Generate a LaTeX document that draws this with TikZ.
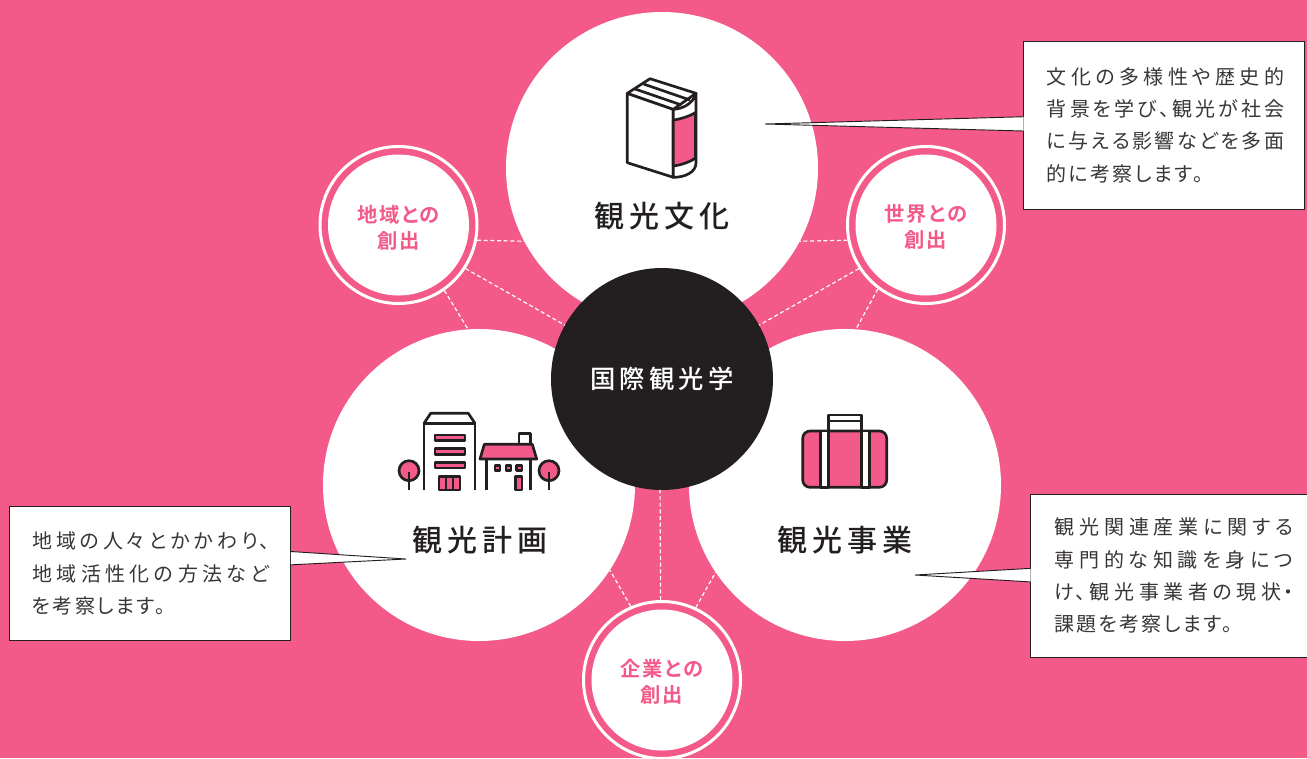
\documentclass[tikz,border=0pt]{standalone}
\usepackage{fontspec}
\XeTeXlinebreaklocale "ja"
\newfontfamily\jpbody[LetterSpace=11,RawFeature=+palt]{Noto Sans CJK JP}
\newfontfamily\jptitle[LetterSpace=17]{Noto Sans CJK JP Medium}
\newfontfamily\jpcenter[LetterSpace=16]{Noto Sans CJK JP Medium}
\newfontfamily\jpsmall[LetterSpace=9,RawFeature=+palt]{Noto Sans CJK JP Bold}
\newcommand\jl[2]{\makebox[0pt][l]{\parbox[b]{#1}{\XeTeXlinebreakskip=0pt plus 1fil\parfillskip=0pt\relax\noindent #2}}}
\definecolor{pinkbg}{HTML}{F35A89}
\definecolor{inkdark}{HTML}{231F20}
\definecolor{bodyink}{HTML}{3A3637}
\tikzset{
  x=0.75pt,y=-0.75pt,
  bigc/.style={circle,fill=white,inner sep=0pt,outer sep=0pt,minimum size=234pt},
  hubc/.style={circle,fill=inkdark,inner sep=0pt,outer sep=0pt,minimum size=166.5pt,text=white,
     font=\jpcenter\fontsize{19pt}{22pt}\selectfont},
  ringc/.style={circle,draw=white,line width=2.25pt,inner sep=0pt,minimum size=117.75pt},
  smallc/.style={circle,fill=white,inner sep=0pt,outer sep=0pt,minimum size=105.75pt},
  smalllab/.style={inner sep=0pt,text=pinkbg,align=center,
     font=\jpsmall\fontsize{15.2pt}{19.5pt}\selectfont},
  titlelab/.style={inner sep=0pt,text=inkdark,font=\jptitle\fontsize{22.5pt}{26pt}\selectfont},
  notebox/.style={anchor=north west,draw=inkdark,line width=0.7pt,fill=white,inner sep=0pt,outer sep=0pt,
     align=left,text=bodyink,font=\jpbody\fontsize{15pt}{24.3pt}\selectfont},
  notetail/.style={draw=inkdark,line width=0.7pt,fill=white},
  dotline/.style={white,line width=0.9pt,dash pattern=on 3pt off 2pt},
  icon/.style={draw=inkdark,line width=2pt,line join=round},
  iconp/.style={icon,fill=pinkbg},
  iconw/.style={icon,fill=white},
}
\begin{document}
\begin{tikzpicture}
\useasboundingbox (0,0) rectangle (1307,758);
\clip (0,0) rectangle (1307,758);
\fill[pinkbg] (0,0) rectangle (1307,758);

% main circles
\node[bigc] (top) at (662,168) {};
\node[bigc] (lft) at (479,485) {};
\node[bigc] (rgt) at (845,485) {};
\node[hubc] (hub) at (662,379) {国際観光学};

% satellite circles
\node[ringc] (rl) at (398.5,225) {};
\node[smallc] (sl) at (398.5,225) {};
\node[smalllab] (ll) at (398.5,228) {地域との\\創出};
\node[ringc] (rr) at (926,225) {};
\node[smallc] (sr) at (926,225) {};
\node[smalllab] (lr) at (926,227) {世界との\\創出};
\node[ringc] (rb) at (662,680) {};
\node[smallc] (sb) at (662,680) {};
\node[smalllab] (lb) at (662,682) {企業との\\創出};

% dotted connectors
\draw[dotline] (rl.-11.6) -- (top.208);
\draw[dotline] (rl.-33) -- (hub.151);
\draw[dotline] (rl.-55.5) -- (lft.94);
\draw[dotline] (rr.191.5) -- (top.-28);
\draw[dotline] (rr.213) -- (hub.29.4);
\draw[dotline] (rr.233.8) -- (rgt.86);
\draw[dotline] (rb.91.4) -- (hub.-91);
\draw[dotline] (rb.113.4) -- (lft.-33.6);
\draw[dotline] (rb.65.3) -- (rgt.214.3);

% titles
\node[titlelab] (t1) at (662,216) {観光文化};
\node[titlelab] (t2) at (480,540) {観光計画};
\node[titlelab] (t3) at (845,540) {観光事業};

% callouts
\node[notebox,text width=175.8pt,minimum height=126pt,inner xsep=17.6pt] (n1) at (1023.5,41)
  {\jl{178pt}{文化の多様性や歴史的}\\\jl{178pt}{背景を学び、観光が社会}\\\jl{178pt}{に与える影響などを多面}\\\hbox{的に考察します。}};
\coordinate (n1tip) at (765,124);
\filldraw[notetail] ([yshift=6.2pt]n1.west) -- (n1tip) -- ([yshift=-4.5pt]n1.west);

\node[notebox,text width=177pt,minimum height=100.5pt,inner xsep=17pt] (n2) at (9.5,506.5)
  {\jl{178pt}{地域の人々とかかわり、}\\\jl{178pt}{地域活性化の方法など}\\\hbox{を考察します。}};
\coordinate (n2tip) at (406,559);
\filldraw[notetail] ([yshift=16.5pt]n2.east) -- (n2tip) -- ([yshift=6.5pt]n2.east);

\node[notebox,text width=222pt,minimum height=122.5pt,inner xsep=18pt] (n3) at (1030.7,494)
  {\jl{179pt}{観光関連産業に関する}\\\jl{179pt}{専門的な知識を身につ}\\\jl{179pt}{け、観光事業者の現状・}\\\hbox{課題を考察します。}};
\coordinate (n3tip) at (915,575);
\filldraw[notetail] ([yshift=5.5pt]n3.west) -- (n3tip) -- ([yshift=-4.7pt]n3.west);

% book icon
\path[iconw] (627.3,93.3) -- (627.3,162.7) -- (673.3,177.3) -- (673.3,109.3) -- cycle;
\path[iconw] (627.3,93.3) -- (650,78.7) -- (696,93.3) -- (673.3,109.3) -- cycle;
\path[iconw] (673.3,109.3) .. controls (682,109) and (693,104) .. (696,93.3)
   -- (696,163) .. controls (696,172) and (685,177.5) .. (673.3,177.3) -- cycle;
\path[iconp] (673.3,120) .. controls (681,119) and (690,116) .. (695.5,112.5)
   -- (695.5,158) .. controls (690,162) and (681,165) .. (673.3,166) -- cycle;
\draw[icon] (635,89) -- (681.5,105);
\draw[icon] (643.5,84) -- (690,100);

% buildings icon
\draw[icon] (424,490) -- (424,423.3) -- (475,423.3) -- (475,490);
\draw[icon] (424,423.3) -- (430.7,413.3) -- (468.3,413.3) -- (475,423.3);
\path[iconp] (435,435) rectangle (465,440.7);
\path[iconp] (435,448.7) rectangle (465,454.3);
\path[iconp] (435,462.3) rectangle (465,468);
\path[iconp] (439,476.7) rectangle (460,490);
\draw[icon] (446,476.7) -- (446,490) (453,476.7) -- (453,490);
\path[iconw] (519,444.3) -- (519,433.3) -- (530.7,433.3) -- (530.7,444.3);
\path[iconp] (480,459) -- (484.3,444.3) -- (532.3,444.3) -- (536.7,459) -- cycle;
\draw[icon] (486.7,459) -- (486.7,490) (530.7,459) -- (530.7,490);
\path[iconp] (495,465.7) rectangle (500,470.7);
\path[iconp] (506,465.7) rectangle (511,470.7);
\path[iconp] (516.7,465.7) rectangle (522,470.7);
\path[iconp] (515.7,476.7) rectangle (522,490);
\path[iconp] (409,470.7) circle[radius=10];
\draw[icon] (409,472) -- (409,490);
\path[iconp] (549,470.7) circle[radius=10];
\draw[icon] (549,472) -- (549,490);

% suitcase icon
\path[iconw] (828.3,431) rectangle (861.3,415);
\draw[icon] (828.3,421) -- (861.3,421);
\path[iconp,rounded corners=5.5pt] (802.7,431) rectangle (886.7,487.3);
\path[iconw] (820.7,431) rectangle (828.3,487.3);
\path[iconw] (861.3,431) rectangle (869.3,487.3);
\end{tikzpicture}
\end{document}
